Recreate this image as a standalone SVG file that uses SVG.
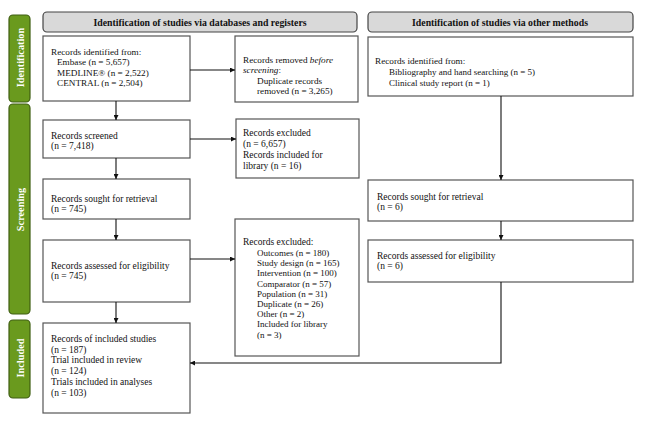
<svg xmlns="http://www.w3.org/2000/svg" width="645" height="423" viewBox="0 0 645 423">
<style>
.box{fill:#fff;stroke:#555;stroke-width:1.2}
.hdr{fill:#d9d9d9;stroke:#444;stroke-width:1.2}
.side{fill:#6a9a1e;stroke:#3f5e12;stroke-width:1.2}
text{font-family:"Liberation Serif","Times New Roman",serif;font-size:9.5px;fill:#111}
.t{font-size:9.2px}
.sm{font-size:9px}
.h{font-weight:bold;font-size:9.8px;text-anchor:middle}
.s{font-weight:bold;font-size:10.3px;fill:#fff;text-anchor:middle}
.c{stroke:#111;stroke-width:1.1;fill:none}
</style>
<defs>
<marker id="ah" viewBox="0 0 10 10" refX="10" refY="5" markerWidth="5" markerHeight="5" orient="auto" markerUnits="userSpaceOnUse">
<path d="M0,0 L10,5 L0,10 z" fill="#111"/>
</marker>
</defs>
<rect width="645" height="423" fill="#fff"/>

<g id="side-identification">
<rect class="side" x="9" y="15" width="21" height="87" rx="4"/>
<text class="s" transform="translate(24,57.5) rotate(-90)">Identification</text>
</g>
<g id="side-screening">
<rect class="side" x="9" y="104" width="21" height="210" rx="4"/>
<text class="s" transform="translate(24,209.5) rotate(-90)">Screening</text>
</g>
<g id="side-included">
<rect class="side" x="9" y="320" width="21" height="78" rx="4"/>
<text class="s" transform="translate(24,358) rotate(-90)">Included</text>
</g>

<g id="header-left">
<rect class="hdr" x="43" y="12" width="314" height="20" rx="4"/>
<text class="h" x="200" y="25.5">Identification of studies via databases and registers</text>
</g>
<g id="header-right">
<rect class="hdr" x="368" y="12" width="265" height="20" rx="4"/>
<text class="h" x="500" y="25.5">Identification of studies via other methods</text>
</g>

<g id="identified">
<rect class="box" x="43" y="36" width="147" height="65"/>
<text class="t" x="51" y="54.5">Records identified from:</text>
<text class="t" x="57" y="65">Embase (n = 5,657)</text>
<text class="t" x="57" y="75.5">MEDLINE® (n = 2,522)</text>
<text class="t" x="57" y="86">CENTRAL (n = 2,504)</text>
</g>
<g id="removed">
<rect class="box" x="235" y="36" width="123" height="66"/>
<text class="t" x="243" y="63">Records removed <tspan font-style="italic">before</tspan></text>
<text class="t" x="243" y="73.4"><tspan font-style="italic">screening</tspan>:</text>
<text class="t" x="257" y="83.8">Duplicate records</text>
<text class="t" x="257" y="94.2">removed (n = 3,265)</text>
</g>
<g id="other-identified">
<rect class="box" x="368" y="37" width="265" height="59"/>
<text class="t" x="375" y="64">Records identified from:</text>
<text class="sm" x="389" y="75">Bibliography and hand searching (n = 5)</text>
<text class="sm" x="389" y="86">Clinical study report (n = 1)</text>
</g>

<g id="screened">
<rect class="box" x="43" y="120" width="147" height="38"/>
<text x="51" y="138.5">Records screened</text>
<text x="51" y="149.3">(n = 7,418)</text>
</g>
<g id="excluded1">
<rect class="box" x="236" y="119" width="123" height="59"/>
<text x="243" y="136">Records excluded</text>
<text x="243" y="147">(n = 6,657)</text>
<text x="243" y="158">Records included for</text>
<text x="243" y="169">library (n = 16)</text>
</g>

<g id="sought">
<rect class="box" x="43" y="179" width="147" height="40"/>
<text x="51" y="201.5">Records sought for retrieval</text>
<text x="51" y="212.3">(n = 745)</text>
</g>
<g id="other-sought">
<rect class="box" x="368" y="180" width="265" height="41"/>
<text x="377" y="199.5">Records sought for retrieval</text>
<text x="377" y="210.3">(n = 6)</text>
</g>

<g id="assessed">
<rect class="box" x="43" y="240" width="147" height="62"/>
<text x="51" y="268.5">Records assessed for eligibility</text>
<text x="51" y="279.3">(n = 745)</text>
</g>
<g id="excluded2">
<rect class="box" x="235" y="219" width="124" height="137"/>
<text x="243" y="245">Records excluded:</text>
<text x="257" y="256" class="sm">Outcomes (n = 180)</text>
<text x="257" y="266.2" class="sm">Study design (n = 165)</text>
<text x="257" y="276.4" class="sm">Intervention (n = 100)</text>
<text x="257" y="286.6" class="sm">Comparator (n = 57)</text>
<text x="257" y="296.8" class="sm">Population (n = 31)</text>
<text x="257" y="307" class="sm">Duplicate (n = 26)</text>
<text x="257" y="317.2" class="sm">Other (n = 2)</text>
<text x="257" y="327.4" class="sm">Included for library</text>
<text x="257" y="337.6" class="sm">(n = 3)</text>
</g>
<g id="other-assessed">
<rect class="box" x="368" y="240" width="265" height="42"/>
<text x="377" y="258.5">Records assessed for eligibility</text>
<text x="377" y="269.3">(n = 6)</text>
</g>

<g id="included">
<rect class="box" x="43" y="323" width="147" height="90"/>
<text x="51" y="342">Records of included studies</text>
<text x="51" y="352.7">(n = 187)</text>
<text x="51" y="363.4">Trial included in review</text>
<text x="51" y="374.1">(n = 124)</text>
<text x="51" y="384.8">Trials included in analyses</text>
<text x="51" y="395.5">(n = 103)</text>
</g>

<g id="connectors">
<line class="c" x1="190" y1="70" x2="235" y2="70" marker-end="url(#ah)"/>
<line class="c" x1="190" y1="139" x2="236" y2="139" marker-end="url(#ah)"/>
<line class="c" x1="190" y1="259" x2="235" y2="259" marker-end="url(#ah)"/>
<line class="c" x1="116" y1="101" x2="116" y2="120" marker-end="url(#ah)"/>
<line class="c" x1="116" y1="158" x2="116" y2="179" marker-end="url(#ah)"/>
<line class="c" x1="116" y1="219" x2="116" y2="240" marker-end="url(#ah)"/>
<line class="c" x1="116" y1="302" x2="116" y2="323" marker-end="url(#ah)"/>
<line class="c" x1="501" y1="96" x2="501" y2="180" marker-end="url(#ah)"/>
<line class="c" x1="501" y1="221" x2="501" y2="240" marker-end="url(#ah)"/>
<polyline class="c" points="501,282 501,363 190,363" marker-end="url(#ah)"/>
</g>
</svg>
